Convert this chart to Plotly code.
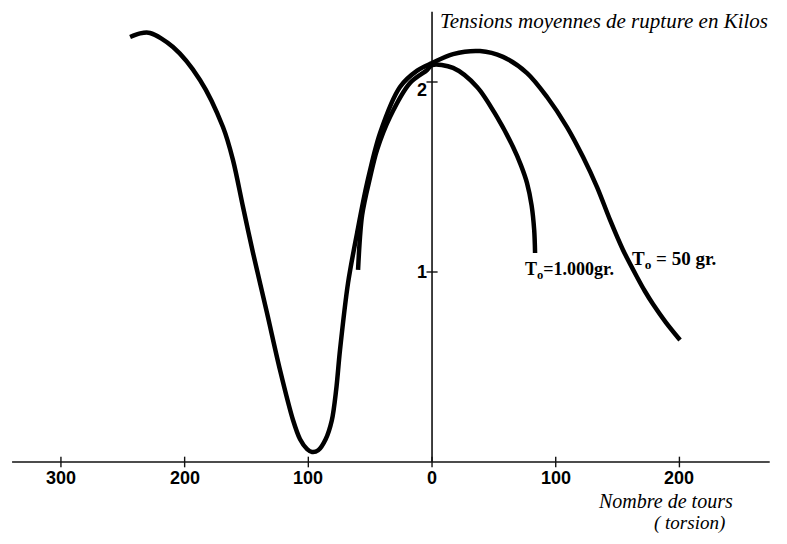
import plotly.graph_objects as go

# ---- data (x: nombre de tours, left side = negative torsion; y: tension in kilos)
curve_50_x = [-244.1, -236.0, -228.0, -209.4, -187.6, -169.0, -160.9, -152.8, -144.7, -133.4,
              -122.9, -112.4, -106.7, -101.0, -97.0, -92.0, -86.0, -81.0, -77.5, -74.4,
              -67.9, -60.6, -52.5, -42.0, -25.9, -12.0, 0.0, 17.0, 38.8, 57.4, 76.8,
              93.0, 109.1, 122.1, 133.4, 143.9, 154.4, 165.7, 172.0, 178.7, 189.0, 200.5]
curve_50_y = [2.237, 2.256, 2.258, 2.184, 2.011, 1.763, 1.589, 1.342, 1.100, 0.784,
              0.484, 0.221, 0.120, 0.068, 0.053, 0.062, 0.120, 0.220, 0.380, 0.589,
              0.942, 1.205, 1.468, 1.732, 1.974, 2.060, 2.100, 2.147, 2.163, 2.132, 2.047,
              1.921, 1.763, 1.605, 1.447, 1.274, 1.116, 0.974, 0.900, 0.830, 0.735, 0.642]

curve_1000_x = [-59.8, -56.5, -50.0, -44.5, -34.0, -17.8, -4.0, 0.0, 17.0, 36.4,
                52.5, 65.5, 72.0, 76.8, 80.5, 82.6, 83.3]
curve_1000_y = [1.011, 1.300, 1.500, 1.642, 1.816, 1.995, 2.063, 2.089, 2.074, 1.974,
                1.816, 1.658, 1.560, 1.468, 1.350, 1.220, 1.100]

xtick_vals = [-300, -200, -100, 0, 100, 200]
xtick_text = ["300", "200", "100", "0", "100", "200"]
ytick_vals = [1, 2]
ytick_text = ["1", "2"]

x_axis_span = [-339.5, 273.0]
y_axis_top = 2.37

label_1000 = "T<sub>o</sub>=1.000gr."
label_50 = "T<sub>o</sub> = 50 gr."
title_text = "Tensions moyennes de rupture en Kilos"
xlabel_1 = "Nombre de tours"
xlabel_2 = "( torsion)"

fig = go.Figure()

# axis lines
fig.add_trace(go.Scatter(x=x_axis_span, y=[0, 0], mode="lines",
                         line=dict(color="#111", width=1.6), hoverinfo="skip"))
fig.add_trace(go.Scatter(x=[0, 0], y=[0, y_axis_top], mode="lines",
                         line=dict(color="#111", width=1.6), hoverinfo="skip"))

# tick marks
tx, ty = [], []
for v in xtick_vals:
    tx += [v, v, None]
    ty += [-0.028, 0.028, None]
for v in ytick_vals:
    tx += [-4.5, 4.5, None]
    ty += [v, v, None]
fig.add_trace(go.Scatter(x=tx, y=ty, mode="lines",
                         line=dict(color="#111", width=1.4), hoverinfo="skip"))

# curves
fig.add_trace(go.Scatter(x=curve_50_x, y=curve_50_y, mode="lines",
                         line=dict(color="#000", width=4.5, shape="spline", smoothing=0.9)))
fig.add_trace(go.Scatter(x=curve_1000_x, y=curve_1000_y, mode="lines",
                         line=dict(color="#000", width=4.5, shape="spline", smoothing=0.9)))

tick_font = dict(family="Liberation Sans Narrow, Liberation Sans, Arial", size=18, color="#000")
for v, t in zip(xtick_vals, xtick_text):
    fig.add_annotation(x=v, y=0, text="<b>" + t + "</b>", showarrow=False,
                       xanchor="center", yanchor="top", yshift=-4, font=tick_font)
for v, t in zip(ytick_vals, ytick_text):
    fig.add_annotation(x=0, y=v, text="<b>" + t + "</b>", showarrow=False,
                       xanchor="right", yanchor="middle", xshift=-3,
                       yshift=(-8 if v == 2 else 0), font=tick_font)

title_font = dict(family="Liberation Serif, DejaVu Serif, serif", size=21, color="#000")
script_font = dict(family="Liberation Serif, DejaVu Serif, serif", size=20, color="#000")
fig.add_annotation(x=5, y=2.32, text="<i>" + title_text + "</i>", showarrow=False,
                   xanchor="left", yanchor="middle", font=title_font)
fig.add_annotation(x=189, y=-0.205, text="<i>" + xlabel_1 + "</i>", showarrow=False,
                   xanchor="center", yanchor="middle", font=script_font)
fig.add_annotation(x=208, y=-0.321, text="<i>" + xlabel_2 + "</i>", showarrow=False,
                   xanchor="center", yanchor="middle",
                   font=dict(family="Liberation Serif, DejaVu Serif, serif", size=19, color="#000"))

label_font = dict(family="Liberation Serif, DejaVu Serif, serif", size=18, color="#000")
fig.add_annotation(x=73.6, y=1.01, text="<b>" + label_1000 + "</b>", showarrow=False,
                   xanchor="left", yanchor="middle", font=label_font)
fig.add_annotation(x=160.1, y=1.063, text="<b>" + label_50 + "</b>", showarrow=False,
                   xanchor="left", yanchor="middle",
                   font=dict(family="Liberation Serif, DejaVu Serif, serif", size=19, color="#000"))

# figure is 16px smaller than the window to allow for the page's 8px body margin
fig.update_layout(
    width=771, height=528,
    margin=dict(l=0, r=0, t=0, b=0),
    paper_bgcolor="white", plot_bgcolor="white",
    showlegend=False,
    xaxis=dict(range=[-342.8, 280.5], visible=False, fixedrange=True),
    yaxis=dict(range=[-0.3895, 2.3895], visible=False, fixedrange=True),
)

fig.write_html("out.html")
